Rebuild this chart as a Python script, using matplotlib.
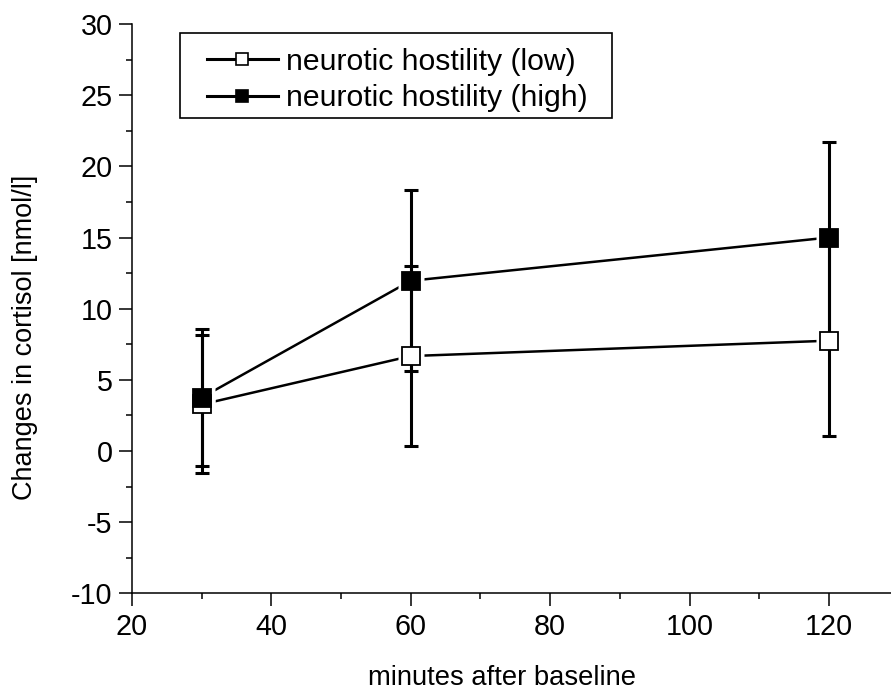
import matplotlib
matplotlib.use('Agg')
import matplotlib.pyplot as plt
from matplotlib.ticker import MultipleLocator
from matplotlib.lines import Line2D
from matplotlib.patches import Rectangle

minutes = [30, 60, 120]
low_mean = [3.27, 6.67, 7.75]
low_err = [4.85, 6.30, 6.72]
high_mean = [3.75, 11.96, 15.0]
high_err = [4.83, 6.35, 6.70]
series_labels = ['neurotic hostility (low)', 'neurotic hostility (high)']
x_label = 'minutes after baseline'
y_label = 'Changes in cortisol [nmol/l]'

plt.rcParams['font.family'] = ['Liberation Sans', 'DejaVu Sans']
plt.rcParams['axes.unicode_minus'] = False

fig = plt.figure(figsize=(8.91, 6.92), dpi=100)
ax = fig.add_axes([0.148, 0.1426, 0.852, 0.8227])

lw = 1.8
for mean in (low_mean, high_mean):
    ax.plot(minutes, mean, color='black', lw=lw, zorder=2, solid_capstyle='butt')
for mean in (low_mean, high_mean):
    ax.plot(minutes, mean, linestyle='none', marker='s', ms=19, mfc='white',
            mec='none', zorder=3)
for mean, err in ((low_mean, low_err), (high_mean, high_err)):
    ax.errorbar(minutes, mean, yerr=err, fmt='none', ecolor='black',
                elinewidth=2.2, capsize=5.3, capthick=2.2, zorder=4)
ax.plot(minutes, low_mean, linestyle='none', marker='s', ms=13, mfc='white',
        mec='black', mew=1.3, zorder=5)
ax.plot(minutes, high_mean, linestyle='none', marker='s', ms=13, mfc='black',
        mec='black', mew=1.3, zorder=6)

ax.set_xlim(20, 128.9)
ax.set_ylim(-10, 30)
ax.xaxis.set_major_locator(MultipleLocator(20))
ax.xaxis.set_minor_locator(MultipleLocator(10))
ax.yaxis.set_major_locator(MultipleLocator(5))
ax.yaxis.set_minor_locator(MultipleLocator(2.5))

for s in ('top', 'right'):
    ax.spines[s].set_visible(False)
for s in ('left', 'bottom'):
    ax.spines[s].set_linewidth(1.1)

ax.tick_params(which='major', direction='out', length=9.4, width=1.1,
               labelsize=20.7, pad=4.5)
ax.tick_params(which='minor', direction='out', length=4.5, width=1.1)

ax.set_xlabel(x_label, fontsize=19.7)
ax.set_ylabel(y_label, fontsize=19.5)
ax.xaxis.set_label_coords(0.4875, -0.126)
ax.yaxis.set_label_coords(-0.123, 0.45)

handles = [
    Line2D([], [], color='black', lw=2.2, marker='s', ms=9, mfc='white',
           mec='black', mew=1.2),
    Line2D([], [], color='black', lw=2.2, marker='s', ms=9, mfc='black',
           mec='black', mew=1.2),
]
leg = ax.legend(handles, series_labels, loc='upper left',
                bbox_to_anchor=(0.0988, 0.958), borderaxespad=0, borderpad=0,
                fontsize=21.7, numpoints=1, handlelength=2.35,
                handletextpad=0.27, labelspacing=0.28, frameon=False)
leg.set_zorder(8)
ax.add_patch(Rectangle((0.0632, 0.8349), 0.5692, 0.1493, transform=ax.transAxes,
                       facecolor='white', edgecolor='black', lw=1.2, zorder=7,
                       clip_on=False))

fig.savefig('out.png', dpi=100)
